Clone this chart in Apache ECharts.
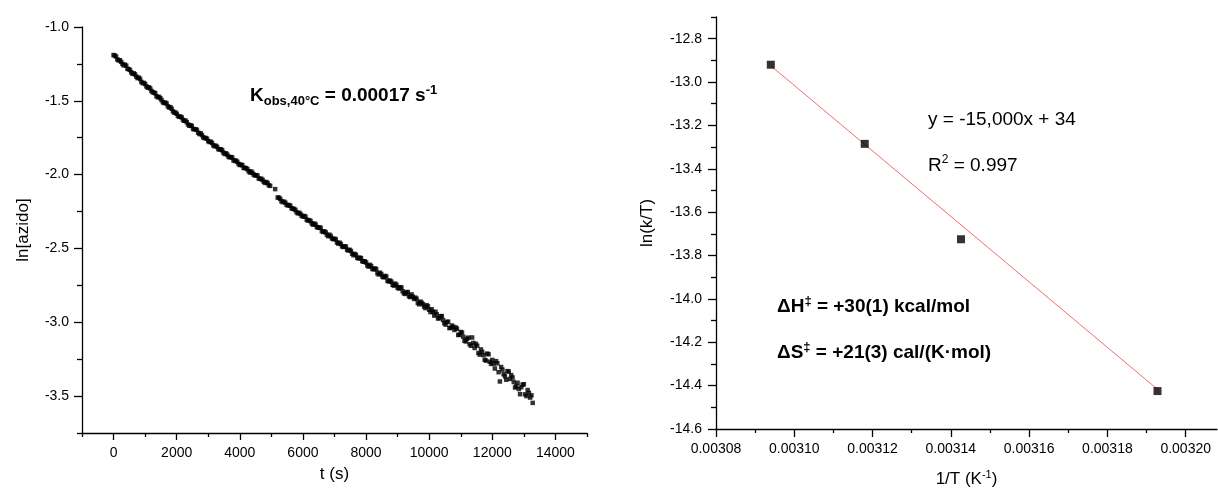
<!DOCTYPE html>
<html><head><meta charset="utf-8">
<script src="https://cdn.jsdelivr.net/npm/echarts@6/dist/echarts.min.js"></script>
<style>html,body{margin:0;padding:0;background:#fff}#c{width:1218px;height:494px}</style>
</head><body><div id="c"></div>
<script>
// ---- left panel: ln[azido] vs t (s) ----
const tSec = [0,80,160,240,320,400,480,560,640,720,800,880,960,1040,1120,1200,1280,1360,1440,1520,1600,1680,1760,1840,1920,2000,
2080,2160,2240,2320,2400,2480,2560,2640,2720,2800,2880,2960,3040,3120,3200,3280,3360,3440,3520,3600,3680,3760,3840,3920,4000,
4080,4160,4240,4320,4400,4480,4560,4640,4720,4800,4880,4960,5120,5200,5280,5360,5440,5520,5600,5680,5760,5840,5920,6000,
6080,6160,6240,6320,6400,6480,6560,6640,6720,6800,6880,6960,7040,7120,7200,7280,7360,7440,7520,7600,7680,7760,7840,7920,8000,
8080,8160,8240,8320,8400,8480,8560,8640,8720,8800,8880,8960,9040,9120,9200,9280,9360,9440,9520,9600,9680,9760,9840,9920,10000,
10080,10160,10240,10320,10400,10480,10560,10640,10720,10800,10880,10960,11040,11120,11200,11280,11360,11440,11520,11600,11680,11760,11840,11920,12000,
12080,12160,12240,12320,12400,12480,12560,12640,12720,12800,12880,12960,13040,13120,13200,13280,
9160,9480,9800,10120,10440,10760,11080,11400,11720,12040,12360,12600,12680,12840,12920,13080,13160,13240];
const lnAzido = [-1.190,-1.200,-1.226,-1.236,-1.260,-1.262,-1.286,-1.307,-1.314,-1.336,-1.343,-1.372,-1.379,-1.402,-1.408,-1.433,-1.444,-1.469,-1.473,-1.494,-1.515,-1.518,-1.545,-1.554,-1.580,-1.588,
-1.608,-1.613,-1.635,-1.645,-1.669,-1.671,-1.692,-1.697,-1.725,-1.732,-1.752,-1.757,-1.779,-1.785,-1.808,-1.812,-1.830,-1.835,-1.860,-1.864,-1.883,-1.884,-1.907,-1.913,-1.935,
-1.936,-1.956,-1.963,-1.986,-1.988,-2.006,-2.007,-2.029,-2.036,-2.056,-2.057,-2.076,-2.098,-2.155,-2.164,-2.186,-2.190,-2.209,-2.211,-2.232,-2.239,-2.262,-2.266,-2.284,
-2.285,-2.311,-2.315,-2.339,-2.338,-2.359,-2.361,-2.388,-2.391,-2.417,-2.416,-2.437,-2.439,-2.467,-2.470,-2.490,-2.488,-2.514,-2.517,-2.546,-2.544,-2.568,-2.566,-2.590,-2.595,
-2.623,-2.619,-2.642,-2.640,-2.676,-2.673,-2.696,-2.690,-2.724,-2.725,-2.752,-2.746,-2.772,-2.765,-2.804,-2.797,-2.824,-2.811,-2.842,-2.841,-2.878,-2.868,-2.894,-2.884,-2.915,
-2.912,-2.955,-2.947,-2.973,-2.958,-3.006,-2.998,-3.039,-3.022,-3.052,-3.044,-3.085,-3.070,-3.125,-3.112,-3.148,-3.103,-3.174,-3.159,-3.219,-3.201,-3.254,-3.212,-3.267,-3.255,
-3.313,-3.278,-3.401,-3.321,-3.366,-3.331,-3.384,-3.374,-3.442,-3.410,-3.487,-3.422,-3.488,-3.459,-3.510,-3.546,
-2.790,-2.826,-2.877,-2.930,-2.985,-3.030,-3.098,-3.140,-3.222,-3.280,-3.352,-3.358,-3.405,-3.452,-3.440,-3.500,-3.478,-3.495];
// readings in between the points above
const tSecMid = [40,120,200,280,360,440,520,600,680,760,840,920,1000,1080,1160,1240,1320,1400,1480,1560,1640,1720,1800,1880,1960,
2040,2120,2200,2280,2360,2440,2520,2600,2680,2760,2840,2920,3000,3080,3160,3240,3320,3400,3480,3560,3640,3720,3800,3880,3960,
4040,4120,4200,4280,4360,4440,4520,4600,4680,4760,4840,4920,5240,5320,5400,5480,5560,5640,5720,5800,5880,5960,
6040,6120,6200,6280,6360,6440,6520,6600,6680,6760,6840,6920,7000,7080,7160,7240,7320,7400,7480,7560,7640,7720,7800,7880,7960,
8040,8120,8200,8280,8360,8440,8520,8600,8680,8760,8840,8920,9000,9080,9240,9320,9400,9560,9640,9720,9880,9960,
10040,10200,10280,10360,10520,10600,10680,10840,10920,11000,11160,11240,11320,11480,11560,11640,11800,11880,11960,
12120,12200,12280,12440,12520,12760,13000];
const lnAzidoMid = [-1.194,-1.220,-1.225,-1.250,-1.255,-1.283,-1.291,-1.317,-1.321,-1.346,-1.352,-1.380,-1.386,-1.411,-1.416,-1.442,-1.449,-1.476,-1.482,-1.509,-1.512,-1.537,-1.543,-1.571,-1.579,
-1.603,-1.607,-1.630,-1.634,-1.660,-1.665,-1.691,-1.693,-1.716,-1.720,-1.747,-1.752,-1.773,-1.777,-1.801,-1.804,-1.827,-1.828,-1.851,-1.855,-1.878,-1.881,-1.903,-1.905,-1.928,
-1.932,-1.954,-1.955,-1.977,-1.978,-2.000,-2.003,-2.026,-2.028,-2.049,-2.050,-2.072,-2.156,-2.180,-2.183,-2.204,-2.206,-2.228,-2.232,-2.255,-2.258,-2.279,
-2.280,-2.306,-2.308,-2.331,-2.331,-2.355,-2.357,-2.383,-2.384,-2.408,-2.407,-2.432,-2.434,-2.460,-2.461,-2.486,-2.485,-2.509,-2.509,-2.536,-2.537,-2.563,-2.562,-2.586,-2.587,
-2.615,-2.611,-2.638,-2.635,-2.668,-2.664,-2.691,-2.686,-2.719,-2.717,-2.746,-2.738,-2.766,-2.762,-2.808,-2.795,-2.829,-2.833,-2.869,-2.860,-2.904,-2.892,
-2.931,-2.929,-2.974,-2.959,-3.016,-2.996,-3.038,-3.035,-3.086,-3.066,-3.130,-3.104,-3.159,-3.146,-3.208,-3.184,-3.260,-3.217,-3.282,
-3.263,-3.338,-3.303,-3.389,-3.334,-3.434,-3.420];
const leftXMajor = [0,2000,4000,6000,8000,10000,12000,14000];
const leftXMinor = [-1000,1000,3000,5000,7000,9000,11000,13000,15000];
const leftYMajor = [-3.5,-3.0,-2.5,-2.0,-1.5,-1.0];
const leftYMinor = [-3.75,-3.25,-2.75,-2.25,-1.75,-1.25];

// ---- right panel: Eyring plot ----
const invT = [0.003094, 0.003118, 0.0031426, 0.0031928];
const lnKT = [-12.92, -13.285, -13.725, -14.425];
const fitInvT = [0.003094, 0.003193];
const fitLnKT = [-12.925, -14.42];
const rightXMajor = [0.00308,0.00310,0.00312,0.00314,0.00316,0.00318,0.00320];
const rightXMinor = [0.00309,0.00311,0.00313,0.00315,0.00317,0.00319];
const rightYMajor = [-14.6,-14.4,-14.2,-14.0,-13.8,-13.6,-13.4,-13.2,-13.0,-12.8];
const rightYMinor = [-14.5,-14.3,-14.1,-13.9,-13.7,-13.5,-13.3,-13.1,-12.9,-12.7];

const FONT = '"Liberation Sans", Arial, Helvetica, sans-serif';
const LINE = {color:'#000', width:1.3};

function axis(o){
  return {
    type:'value', gridIndex:o.grid, min:o.min, max:o.max, position:o.pos, offset:0,
    name:o.name||'', nameLocation:'middle', nameGap:o.nameGap||0,
    nameTextStyle:{fontFamily:FONT, fontSize:17, color:'#000', rich:{
      sup:{fontFamily:FONT, fontSize:11, color:'#000', verticalAlign:'top', lineHeight:12},
      n:{fontFamily:FONT, fontSize:17, color:'#000', lineHeight:20}}},
    axisLine:{show:!!o.line, onZero:false, lineStyle:LINE},
    axisTick:{show:true, inside:false, length:o.tickLen, customValues:o.ticks, lineStyle:LINE},
    axisLabel:{show:!!o.labels, customValues:o.labels, formatter:o.fmt, margin:o.margin||10,
      fontFamily:FONT, fontSize:14, color:'#000', hideOverlap:false},
    splitLine:{show:false}, minorTick:{show:false}, z:5
  };
}

const kineticPts = tSec.map((t,i)=>[t, lnAzido[i]]).concat(tSecMid.map((t,i)=>[t, lnAzidoMid[i]]));

const chart = echarts.init(document.getElementById('c'), null, {renderer:'canvas'});
chart.setOption({
  animation:false,
  backgroundColor:'#fff',
  grid:[
    {left:82, top:27, right:631, bottom:61, containLabel:false},
    {left:716, top:17, right:1, bottom:65, containLabel:false}
  ],
  xAxis:[
    axis({grid:0, min:-1000, max:15000, pos:'bottom', line:true, tickLen:7, ticks:leftXMajor, labels:leftXMajor,
      fmt:v=>String(v), margin:13, name:'t (s)', nameGap:33}),
    axis({grid:0, min:-1000, max:15000, pos:'bottom', line:false, tickLen:4, ticks:leftXMinor}),
    axis({grid:1, min:0.00308, max:0.003208, pos:'bottom', line:true, tickLen:8, ticks:rightXMajor, labels:rightXMajor,
      fmt:v=>v.toFixed(5), margin:13, name:'{n|1/T (K}{sup|-1}{n|)}', nameGap:40}),
    axis({grid:1, min:0.00308, max:0.003208, pos:'bottom', line:false, tickLen:4, ticks:rightXMinor})
  ],
  yAxis:[
    axis({grid:0, min:-3.75, max:-1.0, pos:'left', line:true, tickLen:8, ticks:leftYMajor, labels:leftYMajor,
      fmt:v=>v.toFixed(1), margin:13, name:'ln[azido]', nameGap:50}),
    axis({grid:0, min:-3.75, max:-1.0, pos:'left', line:false, tickLen:5, ticks:leftYMinor}),
    axis({grid:1, min:-14.6, max:-12.7, pos:'left', line:true, tickLen:8, ticks:rightYMajor, labels:rightYMajor,
      fmt:v=>v.toFixed(1), margin:14, name:'ln(k/T)', nameGap:60}),
    axis({grid:1, min:-14.6, max:-12.7, pos:'left', line:false, tickLen:5, ticks:rightYMinor})
  ],
  series:[
    {type:'scatter', xAxisIndex:0, yAxisIndex:0, symbol:'rect', symbolSize:4.5,
      itemStyle:{color:'#000'}, data:kineticPts, z:3},
    {type:'line', xAxisIndex:2, yAxisIndex:2, symbol:'none', lineStyle:{color:'#f26d6d', width:1},
      data:fitInvT.map((x,i)=>[x, fitLnKT[i]]), z:2},
    {type:'scatter', xAxisIndex:2, yAxisIndex:2, symbol:'rect', symbolSize:8,
      itemStyle:{color:'#000'}, data:invT.map((x,i)=>[x, lnKT[i]]), z:4}
  ],
  graphic:[
    {type:'text', left:250, top:84, style:{
      text:'{m|K}{sub|obs,40°C}{m| = 0.00017 s}{sup|-1}',
      rich:{
        m:{fontFamily:FONT, fontSize:19, fontWeight:'bold', fill:'#000', lineHeight:24},
        sub:{fontFamily:FONT, fontSize:13, fontWeight:'bold', fill:'#000', lineHeight:15, verticalAlign:'bottom'},
        sup:{fontFamily:FONT, fontSize:13, fontWeight:'bold', fill:'#000', lineHeight:14, verticalAlign:'top'}
      }}},
    {type:'text', left:928, top:110, style:{
      text:'y = -15,000x + 34', font:'19px '+FONT, fill:'#000'}},
    {type:'text', left:928, top:154, style:{
      text:'{m|R}{sup|2}{m| = 0.997}',
      rich:{
        m:{fontFamily:FONT, fontSize:19, fill:'#000', lineHeight:24},
        sup:{fontFamily:FONT, fontSize:12, fill:'#000', lineHeight:14, verticalAlign:'top'}
      }}},
    {type:'text', left:777, top:295, style:{
      text:'{m|ΔH}{sup|‡}{m| = +30(1) kcal/mol}',
      rich:{
        m:{fontFamily:FONT, fontSize:19, fontWeight:'bold', fill:'#000', lineHeight:24},
        sup:{fontFamily:FONT, fontSize:13, fontWeight:'bold', fill:'#000', lineHeight:15, verticalAlign:'top'}
      }}},
    {type:'text', left:777, top:341, style:{
      text:'{m|ΔS}{sup|‡}{m| = +21(3) cal/(K·mol)}',
      rich:{
        m:{fontFamily:FONT, fontSize:19, fontWeight:'bold', fill:'#000', lineHeight:24},
        sup:{fontFamily:FONT, fontSize:13, fontWeight:'bold', fill:'#000', lineHeight:15, verticalAlign:'top'}
      }}}
  ]
});
</script>
</body></html>
